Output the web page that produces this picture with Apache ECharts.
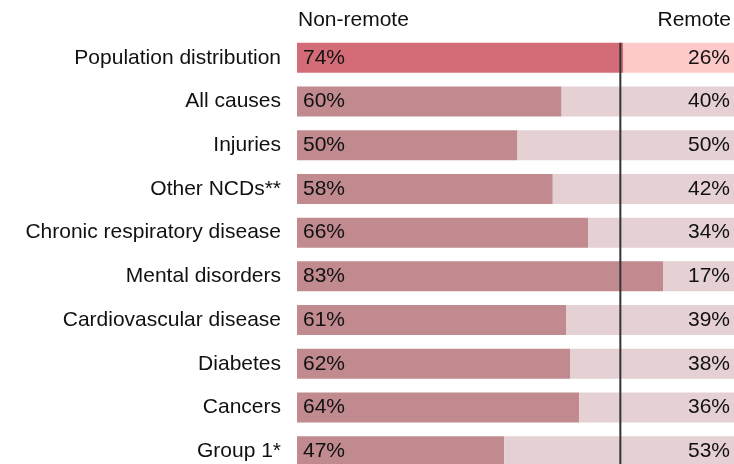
<!DOCTYPE html>
<html>
<head>
<meta charset="utf-8">
<style>
  html, body { margin: 0; padding: 0; background: #fff; overflow: hidden; }
  #chart { width: 740px; height: 480px; }
</style>
<script src="https://cdn.jsdelivr.net/npm/echarts@6/dist/echarts.min.js"></script>
</head>
<body>
<div id="chart"></div>
<script>
// Share of each measure split between non-remote and remote areas (%)
const categories = [
  'Population distribution',
  'All causes',
  'Injuries',
  'Other NCDs**',
  'Chronic respiratory disease',
  'Mental disorders',
  'Cardiovascular disease',
  'Diabetes',
  'Cancers',
  'Group 1*'
];
const nonRemote = [74, 60, 50, 58, 66, 83, 61, 62, 64, 47];
const remote    = [26, 40, 50, 42, 34, 17, 39, 38, 36, 53];
// Reference line at the population share living in non-remote areas
const populationShare = 74;
const headers = ['Non-remote', 'Remote'];

const FONT = '"Liberation Sans", Arial, sans-serif';
const FS = 21;
const BAR_H = 30;

const darkColors  = { first: '#d46c78', rest: '#c08a8f' };
const lightColors = { first: '#fec9c9', rest: '#e5d0d3' };

const chart = echarts.init(document.getElementById('chart'), null, { renderer: 'canvas' });

const labelStyle = {
  show: true,
  fontFamily: FONT,
  fontSize: FS,
  color: '#111',
  formatter: p => p.value + '%'
};

chart.setOption({
  animation: false,
  backgroundColor: '#fff',
  title: [
    { text: headers[0], left: 293, top: 5,
      textStyle: { fontFamily: FONT, fontSize: FS, fontWeight: 'normal', color: '#111' } },
    { text: headers[1], right: 4, top: 5,
      textStyle: { fontFamily: FONT, fontSize: FS, fontWeight: 'normal', color: '#111' } }
  ],
  grid: { left: 297, width: 441, top: 36, height: 437, containLabel: false },
  xAxis: { type: 'value', min: 0, max: 100, show: false },
  yAxis: {
    type: 'category',
    data: categories,
    inverse: true,
    axisLine: { show: false },
    axisTick: { show: false },
    splitLine: { show: false },
    axisLabel: { margin: 16, fontFamily: FONT, fontSize: FS, color: '#111' }
  },
  series: [
    {
      name: headers[0],
      type: 'bar',
      stack: 'share',
      barWidth: BAR_H,
      data: nonRemote.map((v, i) => ({
        value: v,
        itemStyle: { color: i === 0 ? darkColors.first : darkColors.rest }
      })),
      label: Object.assign({ position: 'insideLeft', offset: [1, 0] }, labelStyle)
    },
    {
      name: headers[1],
      type: 'bar',
      stack: 'share',
      barWidth: BAR_H,
      data: remote.map((v, i) => ({
        value: v,
        itemStyle: { color: i === 0 ? lightColors.first : lightColors.rest }
      })),
      label: Object.assign({ position: 'insideRight', offset: [-3, 0] }, labelStyle)
    },
    {
      type: 'custom',
      data: [[populationShare, 0]],
      z: 10,
      renderItem: (params, api) => {
        const p = api.coord([api.value(0), api.value(1)]);
        const cs = params.coordSys;
        return {
          type: 'line',
          shape: { x1: p[0] - 3, y1: p[1] - BAR_H / 2, x2: p[0] - 3, y2: cs.y + cs.height },
          style: { stroke: '#333', lineWidth: 2 }
        };
      }
    }
  ]
});
</script>
</body>
</html>
